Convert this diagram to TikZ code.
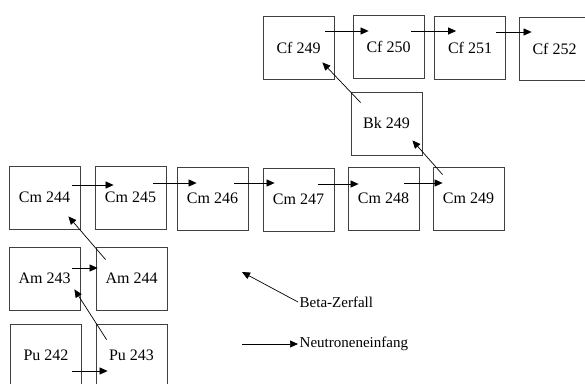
\documentclass[tikz,border=0pt]{standalone}
\usepackage{fontspec}
\setmainfont{Liberation Serif}
\usepackage{tikz}
\usetikzlibrary{arrows.meta, positioning, calc}
\tikzset{
  nuclide/.style={draw=black!75, line width=0.8pt, minimum width=71pt, minimum height=63pt, inner sep=0pt, font=\fontsize{16}{19}\selectfont},
  legendtext/.style={anchor=west, inner sep=1.5pt, font=\fontsize{15}{18}\selectfont},
  capture/.style={-{Triangle[length=8pt, width=7pt]}, line width=0.7pt},
  decay/.style={-{Triangle[length=8pt, width=7pt]}, line width=0.7pt}
}

\begin{document}
\begin{tikzpicture}[x=1pt, y=-1pt]
        \useasboundingbox (0,0) rectangle (585,383);

        % Californium
        \node[nuclide] (cf249) at (298.5, 47.5) {Cf 249};
        \node[nuclide] (cf250) at (388.5, 46.5) {Cf 250};
        \node[nuclide] (cf251) at (470.0, 47.5) {Cf 251};
        \node[nuclide] (cf252) at (554.5, 48.5) {Cf 252};

        % Berkelium
        \node[nuclide] (bk249) at (386.5,123.5) {Bk 249};

        % Curium
        \node[nuclide] (cm244) at ( 44.5,197.5) {Cm 244};
        \node[nuclide] (cm245) at (130.5,197.5) {Cm 245};
        \node[nuclide] (cm246) at (212.5,198.5) {Cm 246};
        \node[nuclide] (cm247) at (298.5,199.5) {Cm 247};
        \node[nuclide] (cm248) at (383.5,198.5) {Cm 248};
        \node[nuclide] (cm249) at (468.5,198.5) {Cm 249};

        % Americium and Plutonium
        \node[nuclide] (am243) at ( 44.5,278.5) {Am 243};
        \node[nuclide] (am244) at (131.5,278.5) {Am 244};
        \node[nuclide] (pu242) at ( 46.0,355.5) {Pu 242};
        \node[nuclide] (pu243) at (131.5,355.5) {Pu 243};

        % Neutron capture
        \draw[capture] ([shift={(-8,-12.5)}]cm244.east) -- ([shift={(19,-12.5)}]cm245.west);
        \draw[capture] ([shift={(-13,-14.5)}]cm245.east) -- ([shift={(20,-15.5)}]cm246.west);
        \draw[capture] ([shift={(-14,-15.5)}]cm246.east) -- ([shift={(12,-16.5)}]cm247.west);
        \draw[capture] ([shift={(-16,-15.5)}]cm247.east) -- ([shift={(11,-14.5)}]cm248.west);
        \draw[capture] ([shift={(-15,-15.5)}]cm248.east) -- ([shift={(10,-15.5)}]cm249.west);
        \draw[capture] ([shift={(-8,-10.5)}]am243.east) -- ([shift={(2,-10.5)}]am244.west);
        \draw[capture] ([shift={(-10,15.5)}]pu242.east) -- ([shift={(12,15.5)}]pu243.west);
        \draw[capture] ([shift={(-9,-16.5)}]cf249.east) -- ([shift={(16,-15.5)}]cf250.west);
        \draw[capture] ([shift={(-13,-15.5)}]cf250.east) -- ([shift={(22,-16.5)}]cf251.west);
        \draw[capture] ([shift={(-10,-15.5)}]cf251.east) -- ([shift={(13,-16.5)}]cf252.west);

        % Beta decay
        \draw[decay] ([shift={(10,13)}]am244.north west) -- ([shift={(-12,-13)}]cm244.south east);
        \draw[decay] ([shift={(11,16)}]pu243.north west) -- ([shift={(-6,-21)}]am243.south east);
        \draw[decay] ([shift={(10,8)}]cm249.north west) -- ([shift={(-10,-15)}]bk249.south east);
        \draw[decay] ([shift={(10,11)}]bk249.north west) -- ([shift={(-12,-17)}]cf249.south east);

        % Legend
        \coordinate (betatip) at (242,272);
        \node[legendtext] (betatext) at (298,302) {Beta-Zerfall};
        \draw[decay] (betatext.west) -- (betatip);
        \coordinate (capstart) at (242,344);
        \node[legendtext] (captext) at (298,344) {Neutroneneinfang};
        \draw[capture] (capstart) -- (captext.west);
    \end{tikzpicture}
\end{document}
